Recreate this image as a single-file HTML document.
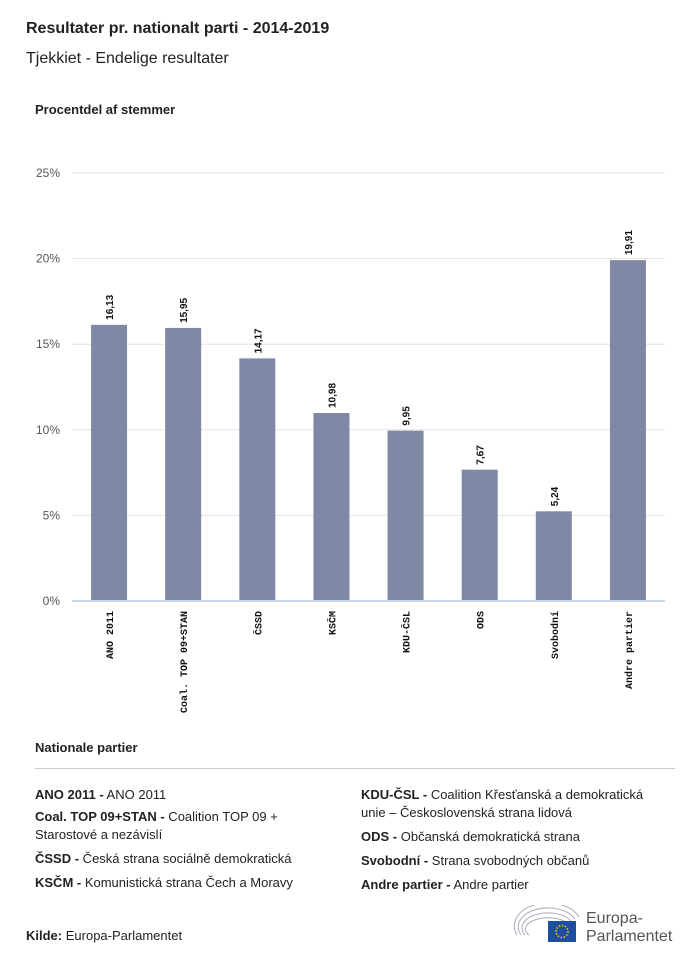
<!DOCTYPE html>
<html><head><meta charset="utf-8"><style>
body{margin:0;width:700px;height:962px;background:#fff;font-family:"Liberation Sans",sans-serif;color:#222;position:relative;overflow:hidden}
.a{position:absolute;white-space:nowrap}
.leg{font-size:13px;line-height:18px;color:#222}
.leg b{font-weight:bold}
</style></head><body>
<div class="a" style="left:26px;top:20px;font-size:16px;font-weight:bold">Resultater pr. nationalt parti - 2014-2019</div>
<div class="a" style="left:26px;top:50px;font-size:16px">Tjekkiet - Endelige resultater</div>
<div class="a" style="left:35px;top:102px;font-size:13px;font-weight:bold">Procentdel af stemmer</div>
<svg id="chart" class="a" style="left:0;top:0" width="700" height="720"></svg>
<div class="a" style="left:35px;top:740px;font-size:13px;font-weight:bold">Nationale partier</div>
<div class="a" style="left:35px;top:768px;width:640px;height:1px;background:#ccc"></div>
<div class="a leg" style="left:35px;top:786px;white-space:normal;width:300px">
<div style="margin-bottom:4px"><b>ANO 2011 -</b> ANO 2011</div>
<div style="margin-bottom:6px"><b>Coal. TOP 09+STAN -</b> Coalition TOP 09 +<br>Starostové a nezávislí</div>
<div style="margin-bottom:6px"><b>ČSSD -</b> Česká strana sociálně demokratická</div>
<div><b>KSČM -</b> Komunistická strana Čech a Moravy</div>
</div>
<div class="a leg" style="left:361px;top:786px;white-space:normal;width:320px">
<div style="margin-bottom:6px"><b>KDU-ČSL -</b> Coalition Křesťanská a demokratická<br>unie – Československá strana lidová</div>
<div style="margin-bottom:6px"><b>ODS -</b> Občanská demokratická strana</div>
<div style="margin-bottom:6px"><b>Svobodní -</b> Strana svobodných občanů</div>
<div><b>Andre partier -</b> Andre partier</div>
</div>
<div class="a" style="left:26px;top:928px;font-size:13px"><b>Kilde:</b> Europa-Parlamentet</div>
<svg class="a" style="left:513px;top:905px" width="70" height="40">
<g fill="none" stroke="#aab" stroke-width="1"><path d="M4 30 A32 22 0 0 1 66 12"/><path d="M8 30 A28 18 0 0 1 62 14"/><path d="M12 30 A24 14 0 0 1 58 16"/><path d="M16 30 A20 10 0 0 1 54 18"/></g>
<rect x="35" y="16" width="28" height="21" fill="#1f4e9e"/><circle cx="49" cy="26.5" r="6" fill="none" stroke="#fc0" stroke-width="1.5" stroke-dasharray="1.5 1.6"/>
</svg>
<div class="a" style="left:586px;top:910px;font-size:16px;line-height:18px;color:#555">Europa-<br>Parlamentet</div>
<script>
const categories=["ANO 2011","Coal. TOP 09+STAN","ČSSD","KSČM","KDU-ČSL","ODS","Svobodní","Andre partier"];
const values=[16.13,15.95,14.17,10.98,9.95,7.67,5.24,19.91];
const valueLabels=["16,13","15,95","14,17","10,98","9,95","7,67","5,24","19,91"];
const yTicks=[0,5,10,15,20,25];
const yTickLabels=["0%","5%","10%","15%","20%","25%"];
const svg=document.getElementById('chart');const NS="http://www.w3.org/2000/svg";
const x0=72,x1=665,yb=601,yt=173,ymax=25;
const y=v=>yb-(v/ymax)*(yb-yt);
const band=(x1-x0)/categories.length;
const xc=i=>x0+band*(i+0.5);
function mk(t,a){const e=document.createElementNS(NS,t);for(const k in a)e.setAttribute(k,a[k]);svg.appendChild(e);return e;}
yTicks.forEach((t,i)=>{
 const l=mk('line',{x1:x0,x2:x1,y1:y(t),y2:y(t),stroke:'#e4e4e4'});
 
 
 const tx=mk('text',{x:60,y:y(t)+4,'text-anchor':'end','font-size':12,fill:'#555','font-family':'Liberation Sans'});
 tx.textContent=yTickLabels[i];
 
 
});
values.forEach((v,i)=>{
 const r=mk('rect',{x:xc(i)-18,y:y(v),width:36,height:yb-y(v),fill:'#7f88a5'});
 
 
 const t=mk('text',{transform:`translate(${xc(i)+4},${y(v)-5}) rotate(-90)`,'font-size':10,'font-weight':'bold',fill:'#111','font-family':'Liberation Sans'});
 t.textContent=valueLabels[i];
 
 
 const c=mk('text',{transform:`translate(${xc(i)+4},${yb+10}) rotate(-90)`,'text-anchor':'end','font-size':10,'font-weight':'bold',fill:'#111','font-family':'Liberation Mono'});
 c.textContent=categories[i];
 
 
});
const ax=mk('line',{x1:x0,x2:x1,y1:yb,y2:yb,stroke:'#c8d4e8','stroke-width':2});


</script>
</body></html>
